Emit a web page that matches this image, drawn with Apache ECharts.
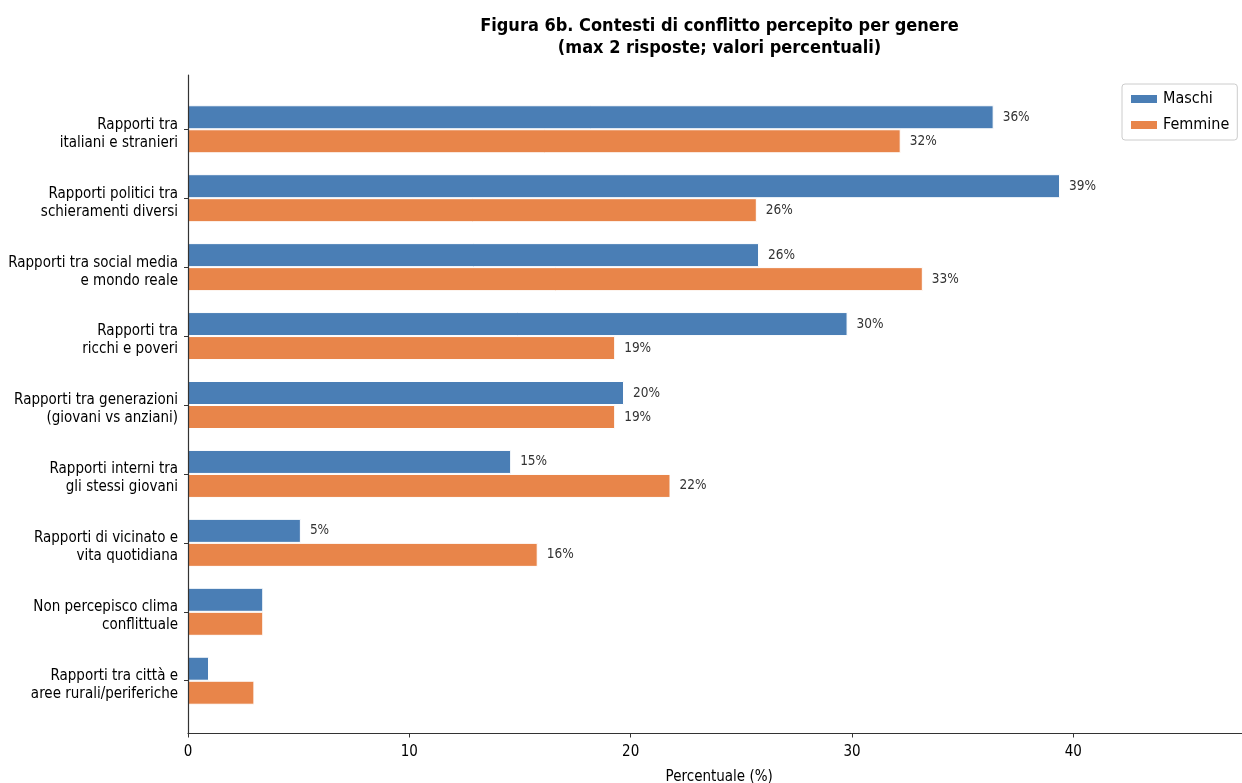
<!DOCTYPE html>
<html>
<head>
<meta charset="utf-8">
<script src="https://cdn.jsdelivr.net/npm/echarts@6/dist/echarts.min.js"></script>
<style>
html,body{margin:0;padding:0;background:#fff;}
#chart{width:1242px;height:783px;}
</style>
</head>
<body>
<div id="chart"></div>
<script>
var categories = [
  'Rapporti tra\nitaliani e stranieri',
  'Rapporti politici tra\nschieramenti diversi',
  'Rapporti tra social media\ne mondo reale',
  'Rapporti tra\nricchi e poveri',
  'Rapporti tra generazioni\n(giovani vs anziani)',
  'Rapporti interni tra\ngli stessi giovani',
  'Rapporti di vicinato e\nvita quotidiana',
  'Non percepisco clima\nconflittuale',
  'Rapporti tra città e\naree rurali/periferiche'
];
var maschi  = [36.4, 39.4, 25.8, 29.8, 19.7, 14.6, 5.1, 3.4, 0.95];
var femmine = [32.2, 25.7, 33.2, 19.3, 19.3, 21.8, 15.8, 3.4, 3.0];
var seriesNames = ['Maschi', 'Femmine'];
var xMin = 0, xMax = 48, xInterval = 10;
var labelThreshold = 5;

var FONT = '"DejaVu Sans Condensed", "Liberation Sans Narrow", "DejaVu Sans", sans-serif';
var chart = echarts.init(document.getElementById('chart'), null, {renderer: 'canvas'});

function labelFmt(p) {
  return p.value >= labelThreshold ? Math.round(p.value) + '%' : '';
}

var option = {
  backgroundColor: '#fff',
  animation: false,
  textStyle: {fontFamily: FONT},
  title: {
    text: 'Figura 6b. Contesti di conflitto percepito per genere\n(max 2 risposte; valori percentuali)',
    left: 719.5,
    top: 15,
    padding: 0,
    textAlign: 'center',
    textStyle: {fontFamily: FONT, fontSize: 18, fontWeight: 'bold', color: '#000', lineHeight: 22}
  },
  legend: {
    orient: 'vertical',
    left: 1122,
    top: 84,
    padding: [7, 8, 7, 7],
    itemWidth: 28,
    itemHeight: 10,
    itemGap: 10,
    backgroundColor: '#fff',
    borderColor: '#ccc',
    borderWidth: 1,
    borderRadius: 3,
    icon: 'rect',
    textStyle: {fontFamily: FONT, fontSize: 16, color: '#000', lineHeight: 16},
    data: seriesNames
  },
  grid: [
    {left: 188, right: -8.4, top: 75, bottom: 49.5, outerBoundsMode: 'none', containLabel: false},
    {left: 188, right: -8.4, top: 94.8, height: 620.4, outerBoundsMode: 'none', containLabel: false},
    {left: 188, right: -8.4, top: 99.3, height: 620.4, outerBoundsMode: 'none', containLabel: false}
  ],
  xAxis: [
    {
      gridIndex: 0, type: 'value', min: xMin, max: xMax, interval: xInterval, z: 10,
      axisLine: {show: true, lineStyle: {color: '#333', width: 1.2}},
      axisTick: {show: true, length: 4, lineStyle: {color: '#333'}},
      axisLabel: {
        fontFamily: FONT, fontSize: 15, color: '#000', margin: 11,
        showMaxLabel: false,
        formatter: function (v) { return v % xInterval === 0 ? String(v) : ''; }
      },
      splitLine: {show: false},
      name: 'Percentuale (%)', nameLocation: 'middle', nameGap: 36,
      nameTextStyle: {fontFamily: FONT, fontSize: 15, color: '#000'}
    },
    {gridIndex: 1, type: 'value', min: xMin, max: xMax, show: false},
    {gridIndex: 2, type: 'value', min: xMin, max: xMax, show: false}
  ],
  yAxis: [
    {
      gridIndex: 0, type: 'value', min: 0, max: 1, z: 10,
      axisLine: {show: true, lineStyle: {color: '#333', width: 1.2}},
      axisTick: {show: false}, axisLabel: {show: false}, splitLine: {show: false}
    },
    {
      gridIndex: 1, type: 'category', inverse: true, data: categories, z: 10,
      axisLine: {show: false},
      axisTick: {show: true, alignWithLabel: true, length: 4, lineStyle: {color: '#333'}},
      axisLabel: {show: false},
      splitLine: {show: false}
    },
    {
      gridIndex: 2, type: 'category', inverse: true, data: categories, z: 10,
      axisLine: {show: false},
      axisTick: {show: false},
      axisLabel: {fontFamily: FONT, fontSize: 15, lineHeight: 18, color: '#000', margin: 10, align: 'right'},
      splitLine: {show: false}
    }
  ],
  series: [
    {
      name: seriesNames[0], type: 'bar', xAxisIndex: 1, yAxisIndex: 1,
      data: maschi, barWidth: 24, barGap: '0%',
      itemStyle: {color: '#4A7EB5', borderColor: '#fff', borderWidth: 1},
      label: {show: true, position: 'right', distance: 9, formatter: labelFmt,
              fontFamily: FONT, fontSize: 13.5, color: '#333'}
    },
    {
      name: seriesNames[1], type: 'bar', xAxisIndex: 1, yAxisIndex: 1,
      data: femmine, barWidth: 24, barGap: '0%',
      itemStyle: {color: '#E8854A', borderColor: '#fff', borderWidth: 1},
      label: {show: true, position: 'right', distance: 9, formatter: labelFmt,
              fontFamily: FONT, fontSize: 13.5, color: '#333'}
    }
  ]
};
chart.setOption(option);
</script>
</body>
</html>
